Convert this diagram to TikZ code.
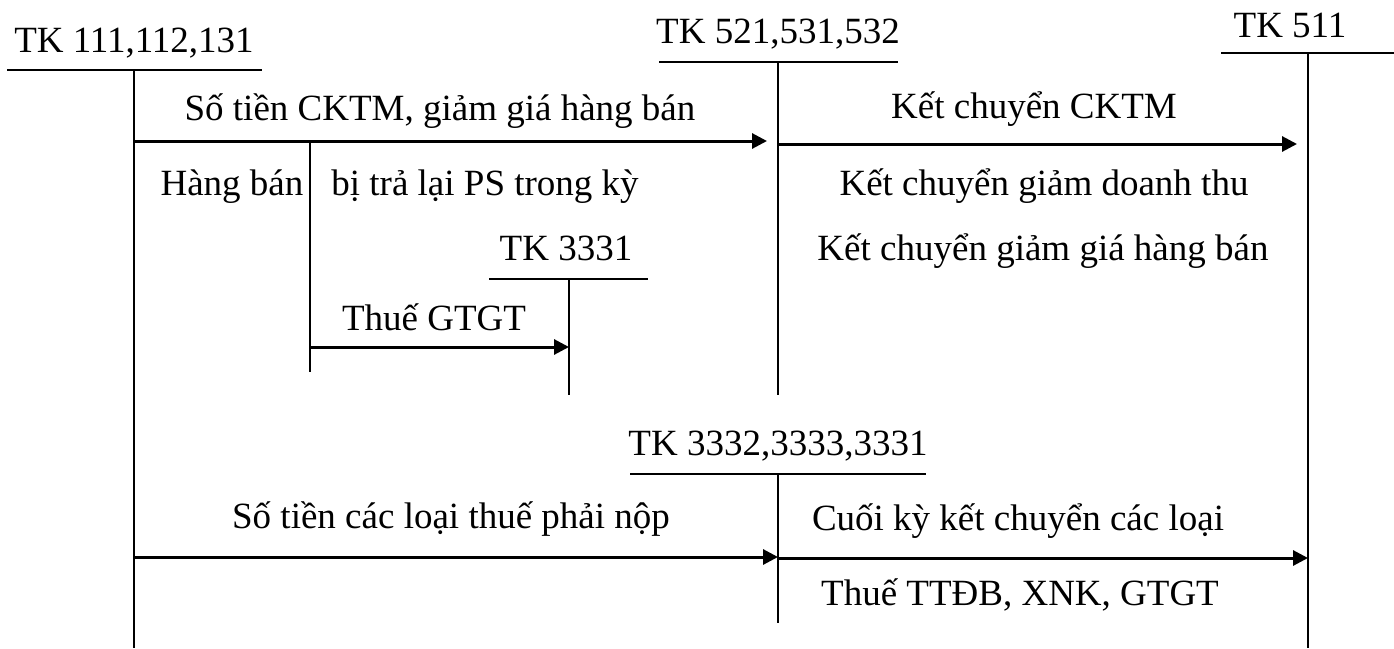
\documentclass[tikz,border=0pt]{standalone}
\usepackage{fontspec}
\setmainfont{Liberation Serif}
\usetikzlibrary{arrows.meta}
\begin{document}
\begin{tikzpicture}[x=1pt,y=-1pt,
  lbl/.style={anchor=base,inner sep=0pt,font=\fontsize{37}{44}\selectfont},
  tline/.style={line width=1.8pt},
  flow/.style={line width=3pt,-{Triangle[length=15pt,width=15pt]}}]
\useasboundingbox (0,0) rectangle (1394,648);

% --- T-account TK 111,112,131
\node[lbl] (t111) at (134,52) {TK 111,112,131};
\coordinate (t111l) at (7,70);   \coordinate (t111r) at (262,70);
\coordinate (t111top) at (134,70); \coordinate (t111bot) at (134,648);
\draw[tline] (t111l) -- (t111r);
\draw[tline] (t111top) -- (t111bot);

% --- T-account TK 521,531,532
\node[lbl] (t521) at (778,43) {TK 521,531,532};
\coordinate (t521l) at (659,62);  \coordinate (t521r) at (898,62);
\coordinate (t521top) at (778,62); \coordinate (t521bot) at (778,395);
\draw[tline] (t521l) -- (t521r);
\draw[tline] (t521top) -- (t521bot);

% --- T-account TK 511
\node[lbl] (t511) at (1290,37) {TK 511};
\coordinate (t511l) at (1221,53);  \coordinate (t511r) at (1394,53);
\coordinate (t511top) at (1308,53); \coordinate (t511bot) at (1308,648);
\draw[tline] (t511l) -- (t511r);
\draw[tline] (t511top) -- (t511bot);

% --- T-account TK 3331
\node[lbl] (t3331) at (566,260) {TK 3331};
\coordinate (t3331l) at (489,279);  \coordinate (t3331r) at (648,279);
\coordinate (t3331top) at (569,279); \coordinate (t3331bot) at (569,395);
\draw[tline] (t3331l) -- (t3331r);
\draw[tline] (t3331top) -- (t3331bot);

% --- T-account TK 3332,3333,3331
\node[lbl] (t3332) at (778,455) {TK 3332,3333,3331};
\coordinate (t3332l) at (630,474);  \coordinate (t3332r) at (926,474);
\coordinate (t3332top) at (778,474); \coordinate (t3332bot) at (778,623);
\draw[tline] (t3332l) -- (t3332r);
\draw[tline] (t3332top) -- (t3332bot);

% --- branch for returned goods
\coordinate (rtop) at (310,141); \coordinate (rbot) at (310,372);
\draw[tline] (rtop) -- (rbot);

% --- flows
\coordinate (a1s) at (134,141); \coordinate (a1e) at (767,141);
\draw[flow] (a1s) -- (a1e);
\node[lbl] (a1t) at (440,120) {Số tiền CKTM, giảm giá hàng bán};

\coordinate (a2s) at (778,144); \coordinate (a2e) at (1297,144);
\draw[flow] (a2s) -- (a2e);
\node[lbl] (a2t) at (1034,118) {Kết chuyển CKTM};

\node[lbl] (hb) at (232,195) {Hàng bán};
\node[lbl] (btl) at (485,195) {bị trả lại PS trong kỳ};
\node[lbl] (kcdt) at (1044,195) {Kết chuyển giảm doanh thu};
\node[lbl] (kcgg) at (1043,260) {Kết chuyển giảm giá hàng bán};

\coordinate (a3s) at (310,347); \coordinate (a3e) at (569,347);
\draw[flow] (a3s) -- (a3e);
\node[lbl] (a3t) at (434,330) {Thuế GTGT};

\coordinate (a4s) at (134,557); \coordinate (a4e) at (778,557);
\draw[flow] (a4s) -- (a4e);
\node[lbl] (a4t) at (451,528) {Số tiền các loại thuế phải nộp};

\coordinate (a5s) at (778,558); \coordinate (a5e) at (1308,558);
\draw[flow] (a5s) -- (a5e);
\node[lbl] (a5t) at (1018,530) {Cuối kỳ kết chuyển các loại};
\node[lbl] (a5b) at (1020,605) {Thuế TTĐB, XNK, GTGT};
\end{tikzpicture}
\end{document}
